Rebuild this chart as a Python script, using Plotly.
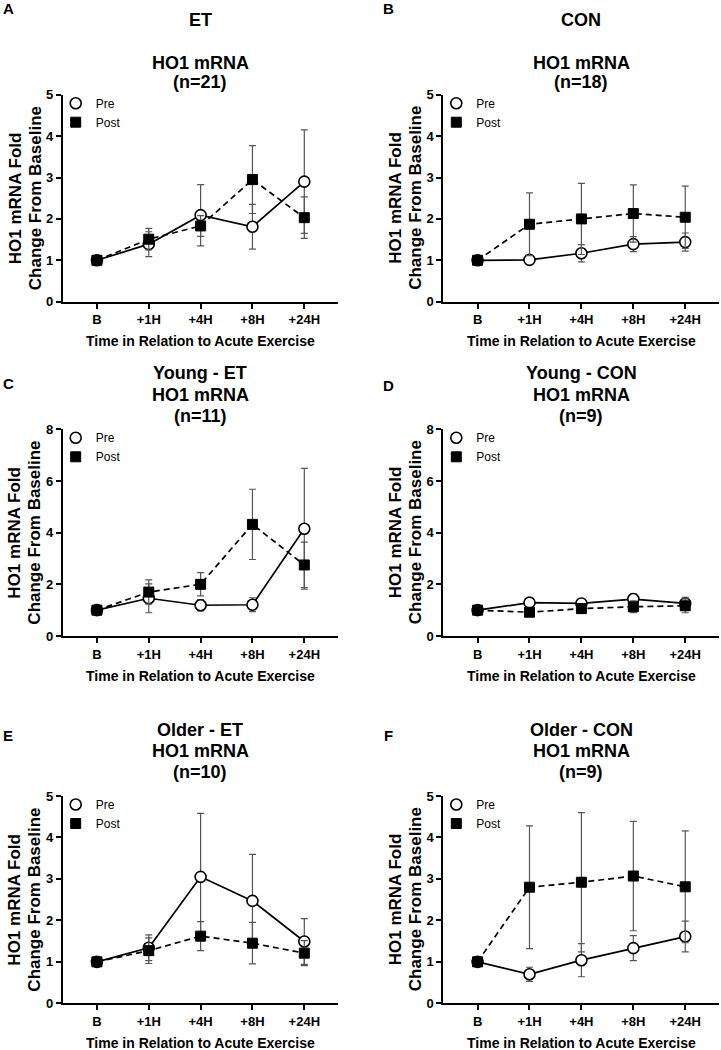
"""
HO1 mRNA fold change after acute exercise, pre / post training.
Six panels: ET and CON, then split by Young and Older.
"""
# 3rd party imports
import plotly.graph_objects as go

W, H = 721, 1050
FONT = "Liberation Sans"

times = ["B", "+1H", "+4H", "+8H", "+24H"]

# A - ET (n=21)
et_pre = [1.0, 1.39, 2.09, 1.81, 2.90]
et_pre_se = [0.03, 0.30, 0.74, 0.54, 1.25]
et_post = [1.0, 1.51, 1.83, 2.95, 2.03]
et_post_se = [0.03, 0.26, 0.25, 0.82, 0.50]

# B - CON (n=18)
con_pre = [1.0, 1.01, 1.17, 1.39, 1.44]
con_pre_se = [0.02, 0.05, 0.21, 0.18, 0.22]
con_post = [1.0, 1.87, 2.00, 2.13, 2.04]
con_post_se = [0.02, 0.76, 0.86, 0.69, 0.75]

# C - Young ET (n=11)
yet_pre = [1.0, 1.46, 1.19, 1.21, 4.15]
yet_pre_se = [0.03, 0.56, 0.22, 0.27, 2.34]
yet_post = [1.0, 1.70, 2.00, 4.32, 2.75]
yet_post_se = [0.03, 0.47, 0.45, 1.36, 0.88]

# D - Young CON (n=9)
ycon_pre = [1.0, 1.29, 1.26, 1.43, 1.26]
ycon_pre_se = [0.02, 0.08, 0.10, 0.20, 0.24]
ycon_post = [1.0, 0.92, 1.06, 1.13, 1.17]
ycon_post_se = [0.02, 0.08, 0.17, 0.23, 0.27]

# E - Older ET (n=10)
oet_pre = [1.0, 1.34, 3.05, 2.47, 1.49]
oet_pre_se = [0.03, 0.31, 1.53, 1.12, 0.55]
oet_post = [1.0, 1.27, 1.62, 1.45, 1.21]
oet_post_se = [0.03, 0.31, 0.35, 0.50, 0.30]

# F - Older CON (n=9)
ocon_pre = [1.0, 0.70, 1.04, 1.33, 1.61]
ocon_pre_se = [0.03, 0.17, 0.40, 0.30, 0.37]
ocon_post = [1.0, 2.80, 2.92, 3.07, 2.81]
ocon_post_se = [0.03, 1.48, 1.68, 1.32, 1.35]

panels = [
    ("A", ["ET", "HO1 mRNA", "(n=21)"], et_pre, et_pre_se, et_post, et_post_se),
    ("B", ["CON", "HO1 mRNA", "(n=18)"], con_pre, con_pre_se, con_post, con_post_se),
    ("C", ["Young - ET", "HO1 mRNA", "(n=11)"], yet_pre, yet_pre_se, yet_post, yet_post_se),
    ("D", ["Young - CON", "HO1 mRNA", "(n=9)"], ycon_pre, ycon_pre_se, ycon_post, ycon_post_se),
    ("E", ["Older - ET", "HO1 mRNA", "(n=10)"], oet_pre, oet_pre_se, oet_post, oet_post_se),
    ("F", ["Older - CON", "HO1 mRNA", "(n=9)"], ocon_pre, ocon_pre_se, ocon_post, ocon_post_se),
]
y_max = [5, 8, 5]
y_dtick = [1, 2, 1]


def fx(px):
    return px / W


def fy(py):
    return 1 - py / H


def main() -> None:
    """Main Function"""

    # pixel layout of the grid
    col_px = [(62.7, 338.0), (443.3, 719.0)]
    row_px = [(94.7, 301.7), (429.3, 636.0), (796.0, 1003.3)]
    # y of the three title lines per row
    title_rows = [[20, 63, 82], [373, 395, 416], [730, 751, 772]]
    xtitle_y = [341, 676, 1043]
    letter_pos = {"A": (8, 9), "B": (388, 8), "C": (8, 384),
                  "D": (388, 385), "E": (8, 735), "F": (388, 735)}

    fig = go.Figure()
    annotations = []
    bold = dict(family=FONT, color="black", weight="bold")

    for i, (letter, title, pre, pre_se, post, post_se) in enumerate(panels):
        row, col = i // 2, i % 2
        sfx = "" if i == 0 else str(i + 1)
        xa, ya = "x" + sfx, "y" + sfx
        lg = "legend" + sfx
        x0, x1 = col_px[col]
        ytop, ybot = row_px[row]

        err = dict(type="data", color="#555555", thickness=1.2, width=3.5)
        pre_marker = dict(symbol="circle", size=11, color="white",
                          line=dict(color="black", width=1.6))
        post_marker = dict(symbol="square", size=10, color="black",
                           line=dict(color="black", width=1))

        fig.add_trace(go.Scatter(
            x=times, y=pre, mode="lines+markers", showlegend=False,
            error_y=dict(err, array=pre_se),
            line=dict(color="black", width=1.7), marker=pre_marker,
            xaxis=xa, yaxis=ya))
        fig.add_trace(go.Scatter(
            x=times, y=post, mode="lines+markers", showlegend=False,
            error_y=dict(err, array=post_se),
            line=dict(color="black", width=1.7, dash="6px,4px"), marker=post_marker,
            xaxis=xa, yaxis=ya))
        # legend entries (markers only, like the original)
        fig.add_trace(go.Scatter(x=[None], y=[None], mode="markers", name="Pre",
                                 marker=pre_marker, legend=lg, xaxis=xa, yaxis=ya))
        fig.add_trace(go.Scatter(x=[None], y=[None], mode="markers", name="Post",
                                 marker=post_marker, legend=lg, xaxis=xa, yaxis=ya))

        axis_common = dict(showline=True, linecolor="black", linewidth=1.8,
                           ticks="outside", ticklen=5, tickwidth=1.5, tickcolor="black",
                           showgrid=False, zeroline=False, automargin=False,
                           tickfont=dict(family=FONT, color="black", weight="bold", size=13))
        fig.layout["xaxis" + sfx] = dict(
            axis_common, type="category", range=[-0.66, 4.65],
            domain=[fx(x0), fx(x1)], anchor=ya)
        fig.layout["yaxis" + sfx] = dict(
            axis_common, range=[0, y_max[row]], dtick=y_dtick[row],
            domain=[fy(ybot), fy(ytop)], anchor=xa)

        fig.layout[lg] = dict(
            x=fx(x0 - 7), y=fy(ytop - 6), xanchor="left", yanchor="top",
            bgcolor="rgba(0,0,0,0)", itemwidth=30, tracegroupgap=0,
            font=dict(family=FONT, size=12, color="black"))

        xc = (x0 + x1) / 2
        yc = (ytop + ybot) / 2
        # titles
        for text, ty in zip(title, title_rows[row]):
            annotations.append(dict(text=text, x=fx(xc), y=fy(ty), xref="paper", yref="paper",
                                    showarrow=False, xanchor="center", yanchor="middle",
                                    font=dict(bold, size=18)))
        # y axis title, two lines
        for text, off in (("HO1 mRNA Fold", 47.7), ("Change From Baseline", 27.7)):
            annotations.append(dict(text=text, x=fx(x0 - off), y=fy(yc), xref="paper", yref="paper",
                                    showarrow=False, textangle=-90, xanchor="center", yanchor="middle",
                                    font=dict(bold, size=17)))
        # x axis title
        annotations.append(dict(text="Time in Relation to Acute Exercise", x=fx(xc), y=fy(xtitle_y[row]),
                                xref="paper", yref="paper", showarrow=False,
                                xanchor="center", yanchor="middle", font=dict(bold, size=14)))
        # panel letter
        lx, ly = letter_pos[letter]
        annotations.append(dict(text=letter, x=fx(lx), y=fy(ly), xref="paper", yref="paper",
                                showarrow=False, xanchor="center", yanchor="middle",
                                font=dict(bold, size=15)))

    fig.update_layout(width=W, height=H,
                      margin=dict(l=0, r=0, t=0, b=0, autoexpand=False),
                      paper_bgcolor="white", plot_bgcolor="white",
                      annotations=annotations, font=dict(family=FONT, color="black"))

    # page body has a default 8px margin - drop it so the figure fills the window
    fig.write_html("out.html", config={"displayModeBar": False},
                   post_script="document.body.style.margin = '0px';")


if __name__ == '__main__':
    main()
